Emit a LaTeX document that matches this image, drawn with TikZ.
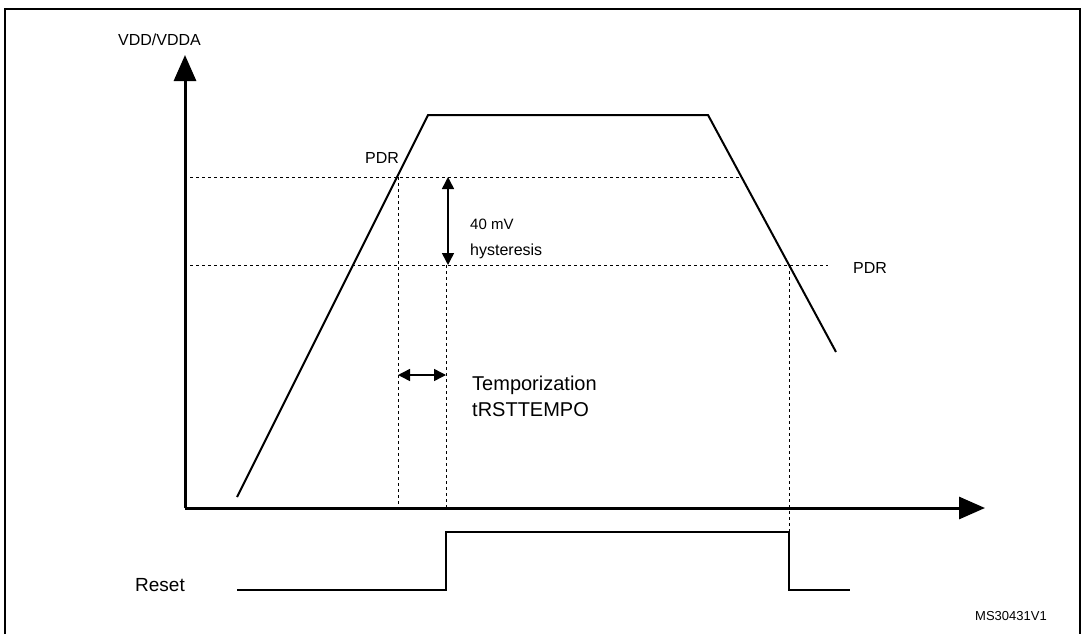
\documentclass[tikz,border=0pt]{standalone}
\usepackage{fontspec}
\setmainfont{Liberation Sans}
\usetikzlibrary{arrows.meta}
\begin{document}
\begin{tikzpicture}[x=1pt,y=-1pt,
  ln/.style={line width=2pt},
  dsh/.style={line width=1pt,dash pattern=on 3pt off 3pt},
  ax/.style={line width=3pt,-{Triangle[length=26pt,width=22pt]}},
  da/.style={line width=1.5pt,{Triangle[length=12pt,width=12pt]}-{Triangle[length=12pt,width=12pt]}},
  lbl/.style={anchor=west,inner sep=0pt},
  fs/.style={font=\fontsize{#1}{#1}\selectfont}]
\useasboundingbox (0,0) rectangle (1083,634);
\draw[line width=1.5pt] (5,634) -- (5,9) -- (1080,9) -- (1080,634);
\coordinate (o) at (185,508);
\coordinate (yt) at (185,55);
\coordinate (xt) at (985,508);
\draw[ax] (o) -- (yt);
\draw[ax] (o) -- (xt);
\node[lbl,fs=16] (vdd) at (118,40) {VDD/VDDA};
\coordinate (s0) at (237,497);
\coordinate (s1) at (428,115);
\coordinate (s2) at (708,115);
\coordinate (s3) at (836,352);
\draw[ln] (s0) -- (s1) -- (s2) -- (s3);
\coordinate (u0) at (190,177); \coordinate (u1) at (742,177);
\coordinate (l0) at (190,265); \coordinate (l1) at (828,265);
\draw[dsh] (u0) -- (u1);
\draw[dsh] (l0) -- (l1);
\node[lbl,fs=16] (pdr1) at (365,158) {PDR};
\node[lbl,fs=16] (pdr2) at (853,268) {PDR};
\coordinate (a1) at (398,177); \coordinate (a2) at (398,508);
\coordinate (b1) at (446,265); \coordinate (b2) at (446,508);
\coordinate (c1) at (789,265); \coordinate (c2) at (789,532);
\draw[dsh] (a1) -- (a2);
\draw[dsh] (b1) -- (b2);
\draw[dsh] (c1) -- (c2);
\coordinate (h1) at (448,177); \coordinate (h2) at (448,265);
\draw[da] (h1) -- (h2);
\node[lbl,fs=15] (mv) at (470,224) {40 mV};
\node[lbl,fs=16] (hy) at (470,251) {hysteresis};
\coordinate (t1) at (398,375); \coordinate (t2) at (446,375);
\draw[da] (t1) -- (t2);
\node[lbl,fs=20] (tm) at (472,385) {Temporization};
\node[lbl,fs=20] (tr) at (472,410) {tRSTTEMPO};
\coordinate (r0) at (237,590); \coordinate (r1) at (446,590);
\coordinate (r2) at (446,532); \coordinate (r3) at (789,532);
\coordinate (r4) at (789,590); \coordinate (r5) at (850,590);
\draw[ln] (r0) -- (r1) -- (r2) -- (r3) -- (r4) -- (r5);
\node[lbl,fs=19] (rs) at (135,585) {Reset};
\node[lbl,fs=13] (ms) at (975,616) {MS30431V1};
\end{tikzpicture}
\end{document}
